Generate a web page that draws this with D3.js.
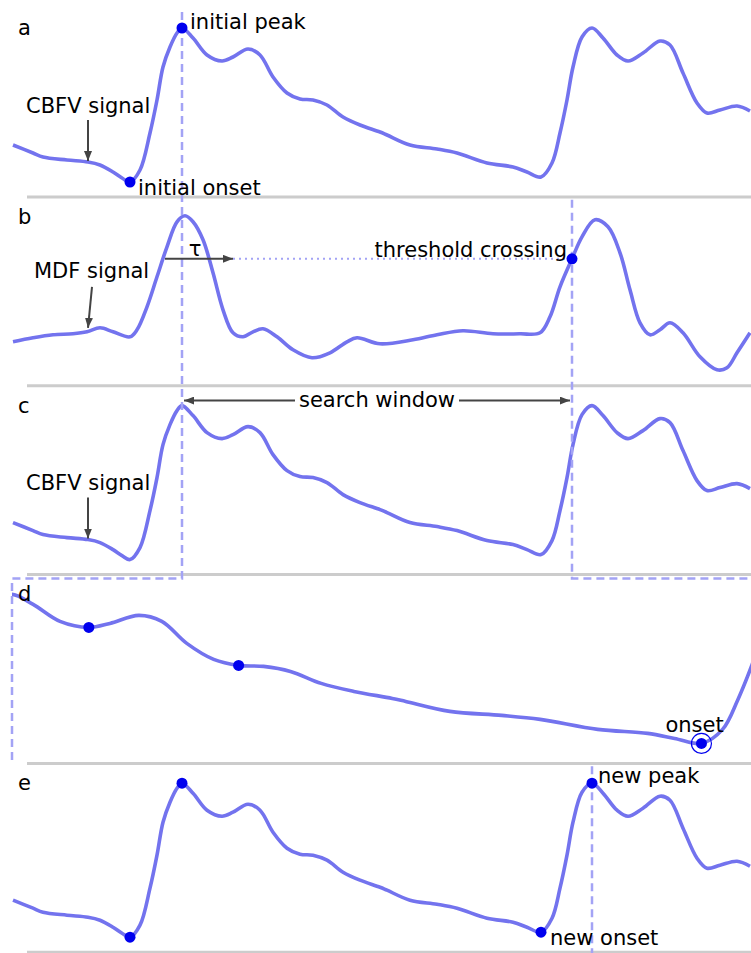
<!DOCTYPE html>
<html><head><meta charset="utf-8">
<script src="https://cdn.jsdelivr.net/npm/d3@7/dist/d3.min.js"></script>
<style>body{margin:0;background:#fff}svg{display:block}</style>
</head><body>
<script>
// ---- data (time in samples, amplitude in a.u.) ----
const cbfvT = [0,10,15,27,37.5,43.5,50,54.5,58.5,63.5,68.5,72,75,78.5,82,84.5,90,97,104.5,110,117.5,123.5,130,137,143.5,150,157,165,173.5,183.5,187,198.5,212,222,237,250,257,264,269.5,273.5,277,280,284.5,289.5,295,302,307.5,315,323.5,328.5,335,342,347,353.5,362,368.5];
const cbfvV = [52,44,40,37,35,32,25,19,15,27,64,97,130,150,164,169,159,142,136,140,148,142,120,104,98,97,92,80,72,65,62,52,48,44,34,30,25,20,34,64,97,130,160,169,159,142,136,144,156,152,124,94,84,87,91,86];
const mdfT = [0,10,20,30,37,43.5,50,58.5,62,67,72,77,82,86,90,95,100,105,110,115,120,125,132,140,149.5,158.5,167,172,183.5,200,212,225,240,253.5,263.5,268.5,273.5,279.5,284.5,291,297.5,303.5,308.5,313.5,318.5,323.5,328.5,335,343.5,352,357,362,368.5];
const mdfV = [44,48,51,52,54,58,54,49,56,79,109,139,164,170,164,146,113,76,53,49,54,57,49,36,28,33,44,48,42,46,51,55,52,52,53,69,99,127,149,166,159,133,96,63,51,56,63,53,29,16,18,33,53];
const panelLabels = ["a","b","c","d","e"];
const initialOnsetT = 58.5, initialPeakT = 84.5, newOnsetT = 264, newPeakT = 289.5;
const thresholdCrossT = 279.5, thresholdV = 127;
const tauStartT = 76, tauEndT = 110;
const dCandidateT = [104.5, 143.5, 264];
const dOnsetT = 264;

// ---- layout ----
const W = 751, H = 953, panelH = 188.8;
const lineColor = "#7373ee", dotColor = "#0000ee", dashColor = "#a3a3f5", annColor = "#444";
const font = "DejaVu Sans, Verdana, sans-serif", fs = 21;

const svg = d3.select("body").append("svg").attr("width", W).attr("height", H);
const defs = svg.append("defs");
defs.append("marker").attr("id","arr").attr("viewBox","0 0 10 8").attr("refX",10).attr("refY",4)
  .attr("markerWidth",10).attr("markerHeight",8).attr("markerUnits","userSpaceOnUse").attr("orient","auto")
  .append("path").attr("d","M0,0L10,4L0,8z").attr("fill",annColor);

const x = d3.scaleLinear().domain([0, 369]).range([13, 751]);
const yS = i => d3.scaleLinear().domain([0, 197]).range([i*panelH + 197, i*panelH]);
const xd = d3.scaleLinear().domain([initialPeakT, thresholdCrossT]).range([12, 761]);

const cbfv = cbfvT.map((t,i)=>({t, v:cbfvV[i]}));
const mdf = mdfT.map((t,i)=>({t, v:mdfV[i]}));
const vAt = (arr,t) => arr.find(d=>d.t===t).v;

// baselines
panelLabels.forEach((l,i)=>{
  svg.append("line").attr("x1",27).attr("x2",W).attr("y1",yS(i)(0)).attr("y2",yS(i)(0))
    .attr("stroke","#cccccc").attr("stroke-width",3);
});

// clip for panel d
defs.append("clipPath").attr("id","clipd").append("rect")
  .attr("x",12).attr("y",3*panelH+12).attr("width",W-12).attr("height",panelH-12);

const curve = d3.curveCatmullRom.alpha(0.5);
function drawSignal(data, xs, ys, clip){
  const p = svg.append("path").datum(data)
    .attr("d", d3.line().curve(curve).x(d=>xs(d.t)).y(d=>ys(d.v)))
    .attr("fill","none").attr("stroke",lineColor).attr("stroke-width",3.6).attr("stroke-linejoin","round");
  if (clip) p.attr("clip-path","url(#clipd)");
}
drawSignal(cbfv, x, yS(0));
drawSignal(mdf, x, yS(1));
drawSignal(cbfv, x, yS(2));
drawSignal(cbfv, xd, yS(3), true);
drawSignal(cbfv, x, yS(4));

// dashed guides
const dash = {stroke:dashColor, "stroke-width":2.5, "stroke-dasharray":"8,5", fill:"none"};
function dpath(d){ const p = svg.append("path").attr("d",d); Object.entries(dash).forEach(([k,v])=>p.attr(k,v)); }
const yBox = 3*panelH + 12;
dpath(`M${x(initialPeakT)},12V${yBox}H12V${yS(3)(0)-1}`);
dpath(`M${x(thresholdCrossT)},${panelH+11}V${yBox}H${W}`);
dpath(`M${x(newPeakT)},${4*panelH+11}V${H}`);

// threshold dotted line (b)
const yb = yS(1);
svg.append("line").attr("x1",x(tauEndT)).attr("x2",x(thresholdCrossT)).attr("y1",yb(thresholdV)).attr("y2",yb(thresholdV))
  .attr("stroke",dashColor).attr("stroke-width",2).attr("stroke-dasharray","2,4");

// dots
function dot(cx, cy, r=5.5){ svg.append("circle").attr("cx",cx).attr("cy",cy).attr("r",r).attr("fill",dotColor); }
dot(x(initialOnsetT), yS(0)(vAt(cbfv,initialOnsetT)));
dot(x(initialPeakT), yS(0)(vAt(cbfv,initialPeakT)));
dot(x(thresholdCrossT), yb(thresholdV));
dCandidateT.forEach(t=>dot(xd(t), yS(3)(vAt(cbfv,t))));
svg.append("circle").attr("cx",xd(dOnsetT)).attr("cy",yS(3)(vAt(cbfv,dOnsetT))).attr("r",10)
  .attr("fill","none").attr("stroke",dotColor).attr("stroke-width",1.2);
[initialOnsetT, initialPeakT, newOnsetT, newPeakT].forEach(t=>dot(x(t), yS(4)(vAt(cbfv,t))));

// text
function txt(s, tx, ty, anchor="start"){
  svg.append("text").attr("x",tx).attr("y",ty).attr("text-anchor",anchor)
    .attr("font-family",font).attr("font-size",fs).attr("fill","#000").text(s);
}
panelLabels.forEach((l,i)=>txt(l, 18, i*panelH + 35));
txt("initial peak", x(initialPeakT)+8, 29);
txt("initial onset", x(initialOnsetT)+8, 195);
txt("CBFV signal", 26, 113);
txt("MDF signal", 34, panelH + 89);
txt("\u03c4", 195, panelH + 67, "middle");
txt("threshold crossing", x(thresholdCrossT)-5, panelH + 68, "end");
txt("CBFV signal", 26, 2*panelH + 112);
txt("search window", 377, 2*panelH + 29, "middle");
txt("onset", xd(dOnsetT)-36, 3*panelH + 166);
txt("new peak", x(newPeakT)+6, 4*panelH + 28);
txt("new onset", x(newOnsetT)+9, 4*panelH + 190);

// arrows
function arrow(x1,y1,x2,y2){
  svg.append("line").attr("x1",x1).attr("y1",y1).attr("x2",x2).attr("y2",y2)
    .attr("stroke",annColor).attr("stroke-width",2).attr("marker-end","url(#arr)");
}
arrow(88,120,88,161);
arrow(92, panelH+98, 88, panelH+139);
arrow(x(tauStartT), yb(thresholdV), x(tauEndT), yb(thresholdV));
arrow(88, 2*panelH+120, 88, 2*panelH+161);
arrow(295, 2*panelH+23, x(initialPeakT)+2, 2*panelH+23);
arrow(459, 2*panelH+23, x(thresholdCrossT)-2, 2*panelH+23);
</script>
</body></html>
